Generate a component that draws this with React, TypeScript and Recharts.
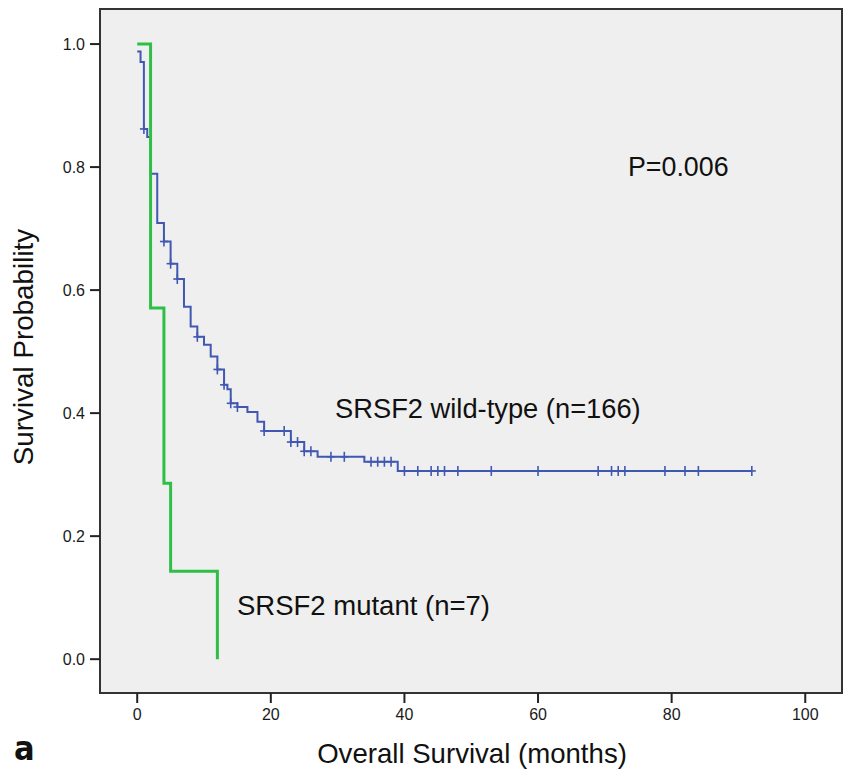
import { ComposedChart, Line, Scatter, XAxis, YAxis, ReferenceArea } from 'recharts';

const BLUE = '#4058b2';
const GREEN = '#2fbf47';
const FONT = '"Liberation Sans", Arial, sans-serif';

const xTicks = [0, 20, 40, 60, 80, 100];
const yTicks = [0, 0.2, 0.4, 0.6, 0.8, 1.0];

// SRSF2 wild-type (n=166), step times in months and survival after each step
const wildTimes = [0, 0.5, 1, 1.5, 2, 3, 4, 5, 6, 7, 8, 9, 10, 11, 12, 13, 13.5, 14, 15, 16.5, 18, 19, 23, 25, 27, 34, 39, 92];
const wildSurv = [0.988, 0.971, 0.862, 0.849, 0.789, 0.709, 0.679, 0.643, 0.618, 0.573, 0.541, 0.524, 0.511, 0.492, 0.471, 0.446, 0.439, 0.416, 0.41, 0.402, 0.386, 0.371, 0.353, 0.338, 0.329, 0.321, 0.306, 0.306];

// censored cases on the wild-type curve
const censorTimes = [1, 4, 5, 6, 9, 12, 13, 14, 15, 19, 22, 23, 24, 25, 26, 29, 31, 35, 36, 37, 38, 40, 42, 44, 45, 46, 48, 53, 60, 69, 71, 72, 73, 79, 82, 84, 92];
const censorSurv = [0.862, 0.679, 0.643, 0.618, 0.524, 0.471, 0.446, 0.416, 0.41, 0.371, 0.371, 0.353, 0.353, 0.338, 0.338, 0.329, 0.329, 0.321, 0.321, 0.321, 0.321, 0.306, 0.306, 0.306, 0.306, 0.306, 0.306, 0.306, 0.306, 0.306, 0.306, 0.306, 0.306, 0.306, 0.306, 0.306, 0.306];

// SRSF2 mutant (n=7)
const mutTimes = [0, 2, 4, 5, 12];
const mutSurv = [1, 0.571, 0.286, 0.143, 0];

const X_DOMAIN: [number, number] = [-5.57, 105.5];
const Y_DOMAIN: [number, number] = [-0.055, 1.057];

const wildData = wildTimes.map((t, i) => ({ t, s: wildSurv[i] }));
const censorData = censorTimes.map((t, i) => ({ t, s: censorSurv[i] }));
const mutData = mutTimes.map((t, i) => ({ t, s: mutSurv[i] }));

function Censor(props: any) {
  const { cx, cy } = props;
  if (cx == null || cy == null) return null;
  return (
    <g>
      <line x1={cx} y1={cy - 5} x2={cx} y2={cy + 5} stroke={BLUE} strokeWidth={1.6} />
      <line x1={cx - 4} y1={cy} x2={cx + 4} y2={cy} stroke={BLUE} strokeWidth={1.6} />
    </g>
  );
}

export default function App() {
  return (
    <div style={{ position: 'absolute', left: 0, top: 0, width: 843, height: 771, background: '#fff', overflow: 'hidden' }}>
      <ComposedChart width={843} height={771} margin={{ top: 9, right: 1, bottom: 0, left: 0 }}>
        <XAxis
          type="number"
          dataKey="t"
          domain={X_DOMAIN}
          ticks={xTicks}
          allowDataOverflow
          height={78}
          axisLine={false}
          tickSize={10}
          tickMargin={6}
          tickLine={{ stroke: '#222', strokeWidth: 2 }}
          tick={{ fill: '#1a1a1a', fontSize: 16, fontFamily: FONT }}
        />
        <YAxis
          type="number"
          domain={Y_DOMAIN}
          ticks={yTicks}
          allowDataOverflow
          width={100}
          axisLine={false}
          tickSize={10}
          tickMargin={5}
          tickFormatter={(v: number) => v.toFixed(1)}
          tickLine={{ stroke: '#222', strokeWidth: 2 }}
          tick={{ fill: '#1a1a1a', fontSize: 16, fontFamily: FONT }}
        />
        <ReferenceArea
          x1={X_DOMAIN[0]}
          x2={X_DOMAIN[1]}
          y1={Y_DOMAIN[0]}
          y2={Y_DOMAIN[1]}
          fill="#efefef"
          fillOpacity={1}
          stroke="#333"
          strokeWidth={2}
        />
        <Line data={wildData} dataKey="s" type="stepAfter" stroke={BLUE} strokeWidth={2} dot={false} isAnimationActive={false} />
        <Scatter data={censorData} dataKey="s" shape={<Censor />} isAnimationActive={false} />
        <Line data={mutData} dataKey="s" type="stepAfter" stroke={GREEN} strokeWidth={3} dot={false} isAnimationActive={false} />
      </ComposedChart>
      <svg width={843} height={771} style={{ position: 'absolute', left: 0, top: 0, pointerEvents: 'none' }}>
        <g fontFamily={FONT} fill="#111">
          <text x={628} y={176} fontSize={26.8}>P=0.006</text>
          <text x={335} y={418} fontSize={27.3}>SRSF2 wild-type (n=166)</text>
          <text x={237} y={615} fontSize={27.5}>SRSF2 mutant (n=7)</text>
          <text x={472} y={763} fontSize={27.6} textAnchor="middle">Overall Survival (months)</text>
          <text x={33} y={347} fontSize={27.8} textAnchor="middle" transform="rotate(-90 33 347)">Survival Probability</text>
          <text x={14} y={760} fontSize={34} fontWeight="bold" fontFamily='"Liberation Sans Narrow", "DejaVu Sans Condensed", sans-serif'>a</text>
        </g>
      </svg>
    </div>
  );
}
